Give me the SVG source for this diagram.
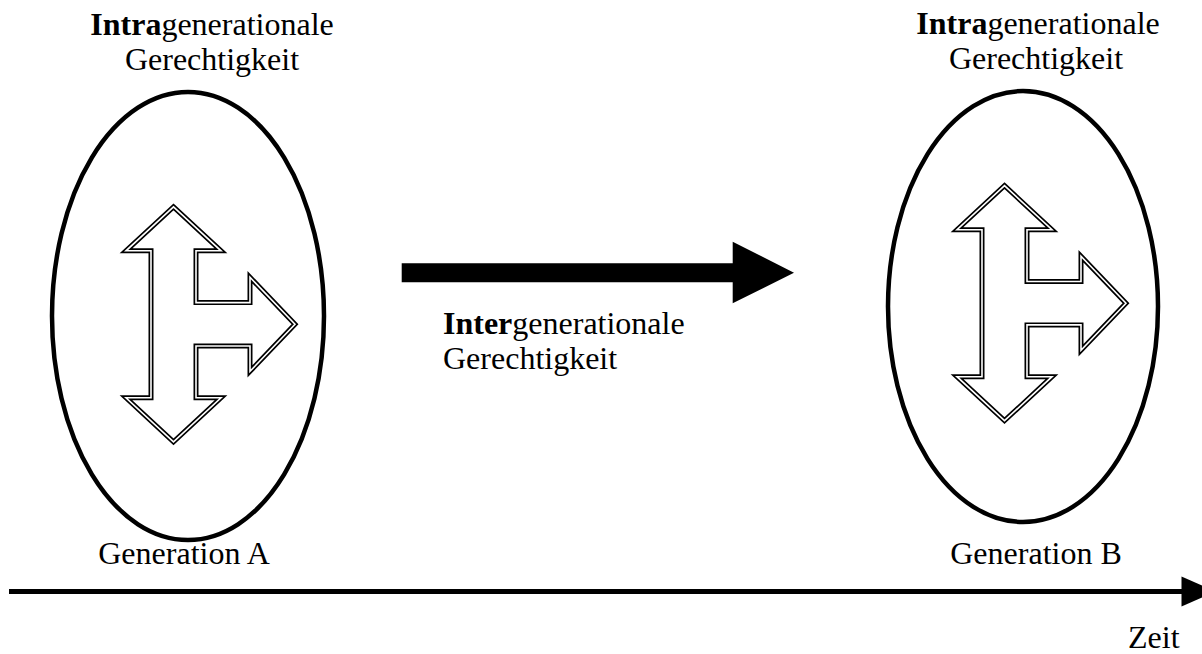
<svg xmlns="http://www.w3.org/2000/svg" width="1202" height="654" viewBox="0 0 1202 654">
<style>
text{font-family:"Liberation Serif","Times New Roman",serif;font-size:32px;fill:#000}
.b{font-weight:bold}
.ell{fill:none;stroke:#000;stroke-width:4.5}
.dbl1{fill:#fff;stroke:#000;stroke-width:5;stroke-linejoin:miter;stroke-miterlimit:10}
.dbl2{fill:none;stroke:#fff;stroke-width:1.6;stroke-linejoin:miter;stroke-miterlimit:10}
</style>
<defs>
<path id="tri" d="M0,-117.5 L47.5,-73.5 L22.5,-73.5 L22.5,-21.7 L76.5,-21.7 L76.5,-47 L121.5,0 L76.5,47 L76.5,21.7 L22.5,21.7 L22.5,73.5 L47.5,73.5 L0,117.5 L-47.5,73.5 L-22.5,73.5 L-22.5,-73.5 L-47.5,-73.5 Z"/>
</defs>
<rect width="1202" height="654" fill="#fff"/>
<g id="genA">
<ellipse class="ell" cx="188" cy="316" rx="136" ry="224"/>
<use href="#tri" class="dbl1" transform="translate(173.5,324.3)"/>
<use href="#tri" class="dbl2" transform="translate(173.5,324.3)"/>
<text x="212" y="35" text-anchor="middle"><tspan class="b">Intra</tspan>generationale</text>
<text x="212" y="70" text-anchor="middle">Gerechtigkeit</text>
<text x="184" y="564" text-anchor="middle">Generation A</text>
</g>
<g id="genB">
<ellipse class="ell" cx="1023" cy="306.5" rx="135" ry="215.5"/>
<use href="#tri" class="dbl1" transform="translate(1004.5,303.2)"/>
<use href="#tri" class="dbl2" transform="translate(1004.5,303.2)"/>
<text x="1038" y="34" text-anchor="middle"><tspan class="b">Intra</tspan>generationale</text>
<text x="1036" y="69" text-anchor="middle">Gerechtigkeit</text>
<text x="1036" y="564" text-anchor="middle">Generation B</text>
</g>
<g id="connectors">
<polygon points="401.7,263.3 732.7,263.3 732.7,241.7 794,272.7 732.7,303.3 732.7,282.3 401.7,282.3" fill="#000"/>
<line x1="9" y1="591.5" x2="1185" y2="591.5" stroke="#000" stroke-width="5"/>
<polygon points="1181.5,576.5 1216,591.5 1181.5,606.5" fill="#000"/>
</g>
<g id="labels">
<text x="443" y="334"><tspan class="b">Inter</tspan>generationale</text>
<text x="443" y="369">Gerechtigkeit</text>
<text x="1128" y="648">Zeit</text>
</g>
</svg>
